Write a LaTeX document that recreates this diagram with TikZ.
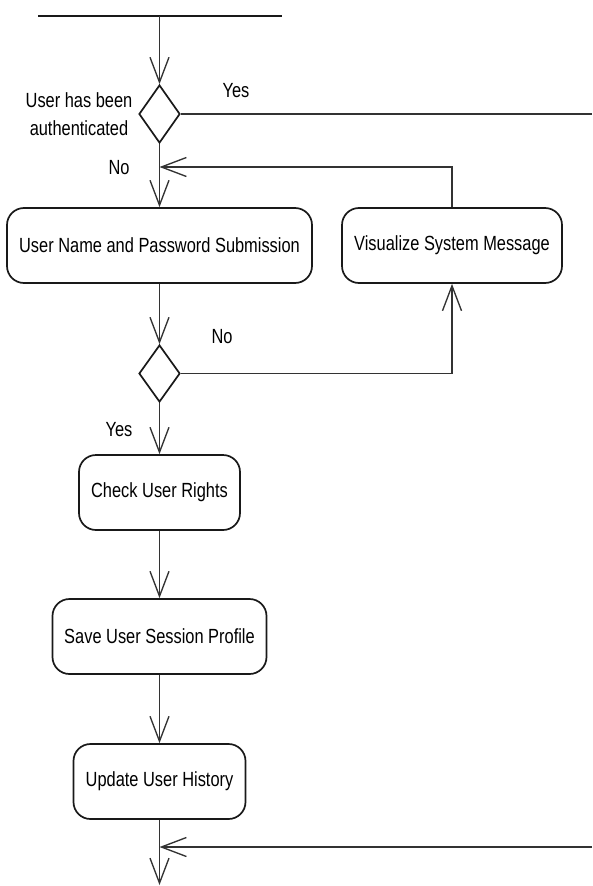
\documentclass[tikz,border=0pt]{standalone}
\usepackage{fontspec}
\setmainfont[FakeStretch=0.80]{Liberation Sans}
\usetikzlibrary{shapes.geometric,arrows.meta}
\begin{document}
\begin{tikzpicture}[x=1pt,y=-1pt,
  act/.style={draw=black!90, line width=1.7pt, rounded corners=17pt, minimum height=75pt, inner sep=0pt, font=\fontsize{20.5}{24}\selectfont},
  dec/.style={draw=black!90, line width=1.7pt, diamond, minimum width=41pt, minimum height=58pt, inner sep=0pt},
  flow/.style={draw=black!80, line width=1.35pt, -{Straight Barb[length=25pt,width=19pt,line width=1.35pt]}},
  lne/.style={draw=black!80, line width=1.35pt},
  lbl/.style={font=\fontsize{20.5}{28}\selectfont, inner sep=0pt}
]
\useasboundingbox (0,0) rectangle (592,886);

% nodes
\node[fill=black!90, minimum width=244pt, minimum height=2.2pt, inner sep=0pt] (bar) at (159.5,16) {};
\node[dec] (d1) at (159.5,114) {};
\node[act, minimum width=305pt] (b1) at (159.5,245.5) {User Name and Password Submission};
\node[act, minimum width=220pt] (b2) at (452,245.5) {Visualize System Message};
\node[dec, minimum height=57pt] (d2) at (159.5,373.5) {};
\node[act, minimum width=161pt] (b3) at (159.5,492.5) {Check User Rights};
\node[act, minimum width=214pt] (b4) at (159.5,636.5) {Save User Session Profile};
\node[act, minimum width=172pt] (b5) at (159.5,781.5) {Update User History};

% labels
\node[lbl, anchor=base] (lyes1) at (236,97) {Yes};
\node[lbl, anchor=base, align=center] (lauth) at (79,135) {User has been\\authenticated};
\node[lbl, anchor=base] (lno1) at (119,174) {No};
\node[lbl, anchor=base] (lno2) at (222,343) {No};
\node[lbl, anchor=base] (lyes2) at (119,436) {Yes};

% free ends / junctions
\coordinate (e1) at (592,114);
\coordinate (j1) at (159.5,167);
\coordinate (e2) at (592,847);
\coordinate (j2) at (159.5,847);
\coordinate (fin) at (159.5,885);

% connectors
\draw[flow] (bar.center) -- (d1.north);
\draw[lne] (d1.east) -- (e1);
\draw[flow] (d1.south) -- (b1.north);
\draw[flow] (b2.north) |- (j1);
\draw[flow] (b1.south) -- (d2.north);
\draw[flow] (d2.east) -| (b2.south);
\draw[flow] (d2.south) -- (b3.north);
\draw[flow] (b3.south) -- (b4.north);
\draw[flow] (b4.south) -- (b5.north);
\draw[flow] (b5.south) -- (fin);
\draw[flow] (e2) -- (j2);
\end{tikzpicture}
\end{document}
